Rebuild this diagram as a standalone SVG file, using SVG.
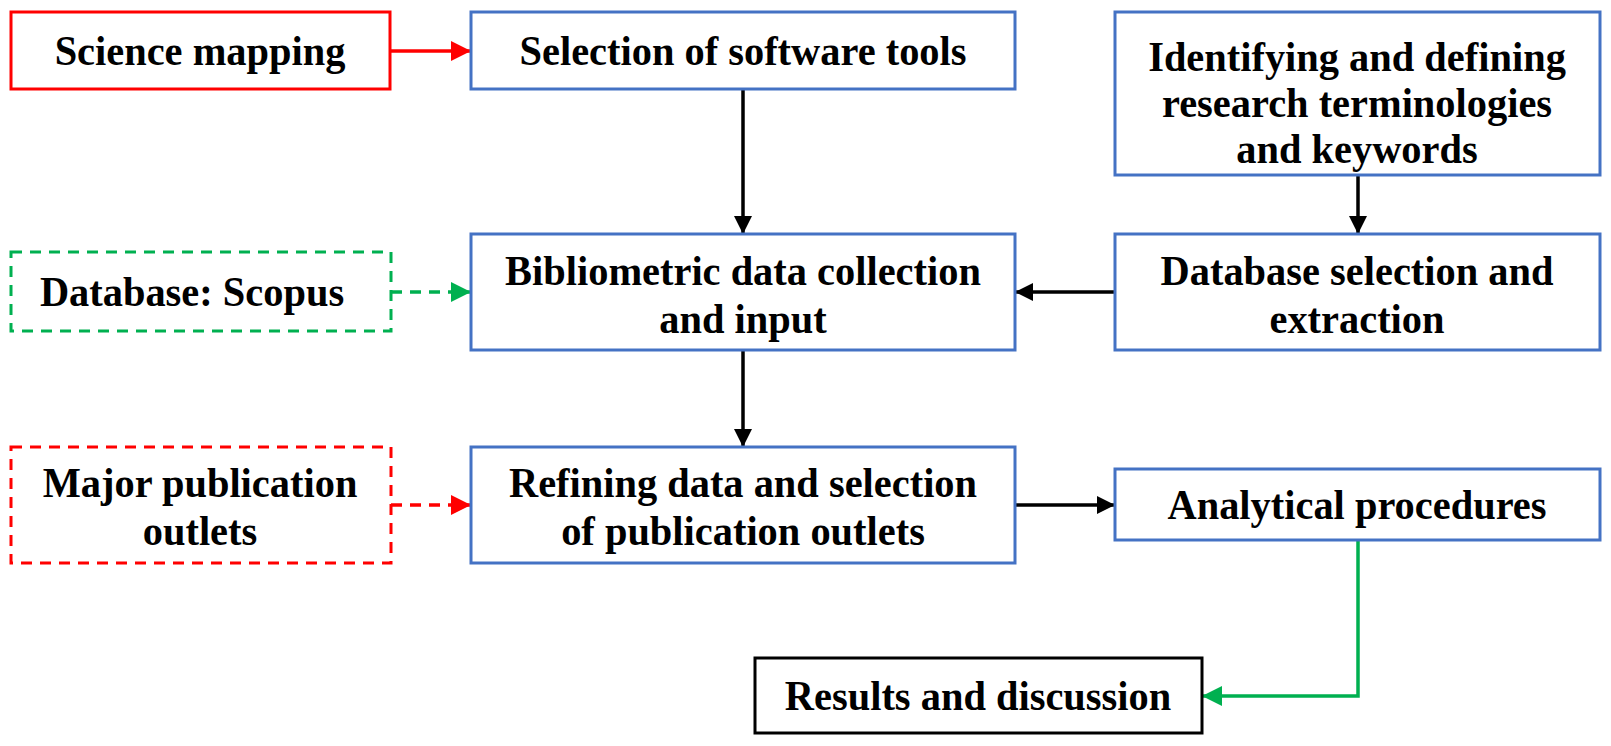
<svg xmlns="http://www.w3.org/2000/svg" width="1611" height="746" viewBox="0 0 1611 746">
<defs>
<style>
.box{fill:#fff;stroke-width:3}
.blue{stroke:#4472C4}
.red{stroke:#FF0000}
.green{stroke:#00B050}
.black{stroke:#000}
.dash{stroke-dasharray:11 8}
text{font-family:"Liberation Serif","Times New Roman",serif;font-weight:bold;font-size:43px;fill:#000;text-anchor:middle}
.c{fill:none;stroke-width:3.5}
</style>
<marker id="ak" viewBox="0 0 18 18" refX="18" refY="9" markerWidth="18" markerHeight="18" markerUnits="userSpaceOnUse" orient="auto"><path d="M0,0 L18,9 L0,18 z" fill="#000"/></marker>
<marker id="ar" viewBox="0 0 20 20" refX="20" refY="10" markerWidth="20" markerHeight="20" markerUnits="userSpaceOnUse" orient="auto"><path d="M0,0 L20,10 L0,20 z" fill="#FF0000"/></marker>
<marker id="ag" viewBox="0 0 20 20" refX="20" refY="10" markerWidth="20" markerHeight="20" markerUnits="userSpaceOnUse" orient="auto"><path d="M0,0 L20,10 L0,20 z" fill="#00B050"/></marker>
</defs>
<rect width="1611" height="746" fill="#fff"/>
<g id="connectors">
<path class="c red" d="M390,51 H471" marker-end="url(#ar)"/>
<path class="c black" d="M743,89 V234" marker-end="url(#ak)"/>
<path class="c black" d="M1358,175 V234" marker-end="url(#ak)"/>
<path class="c green dash" d="M391,292 H471" marker-end="url(#ag)"/>
<path class="c black" d="M1115,292 H1015" marker-end="url(#ak)"/>
<path class="c black" d="M743,350 V447" marker-end="url(#ak)"/>
<path class="c red dash" d="M391,505 H471" marker-end="url(#ar)"/>
<path class="c black" d="M1015,505 H1115" marker-end="url(#ak)"/>
<path class="c green" d="M1358,540 V696 H1202" marker-end="url(#ag)"/>
</g>
<g id="science-mapping">
<rect class="box red" x="11" y="12" width="379" height="77"/>
<text transform="translate(200,65) scale(0.94,1)">Science mapping</text>
</g>
<g id="selection-software">
<rect class="box blue" x="471" y="12" width="544" height="77"/>
<text transform="translate(743,65) scale(0.94,1)">Selection of software tools</text>
</g>
<g id="identifying">
<rect class="box blue" x="1115" y="12" width="485" height="163"/>
<text transform="translate(1357,71) scale(0.94,1)">Identifying and defining</text>
<text transform="translate(1357,117) scale(0.94,1)">research terminologies</text>
<text transform="translate(1357,163) scale(0.94,1)">and keywords</text>
</g>
<g id="database-scopus">
<rect class="box green dash" x="11" y="252" width="380" height="79"/>
<text transform="translate(192,306) scale(0.94,1)">Database: Scopus</text>
</g>
<g id="bibliometric">
<rect class="box blue" x="471" y="234" width="544" height="116"/>
<text transform="translate(743,285) scale(0.94,1)">Bibliometric data collection</text>
<text transform="translate(743,333) scale(0.94,1)">and input</text>
</g>
<g id="database-selection">
<rect class="box blue" x="1115" y="234" width="485" height="116"/>
<text transform="translate(1357,285) scale(0.94,1)">Database selection and</text>
<text transform="translate(1357,333) scale(0.94,1)">extraction</text>
</g>
<g id="major-publication">
<rect class="box red dash" x="11" y="447" width="380" height="116"/>
<text transform="translate(200,497) scale(0.94,1)">Major publication</text>
<text transform="translate(200,545) scale(0.94,1)">outlets</text>
</g>
<g id="refining">
<rect class="box blue" x="471" y="447" width="544" height="116"/>
<text transform="translate(743,497) scale(0.94,1)">Refining data and selection</text>
<text transform="translate(743,545) scale(0.94,1)">of publication outlets</text>
</g>
<g id="analytical">
<rect class="box blue" x="1115" y="469" width="485" height="71"/>
<text transform="translate(1357,519) scale(0.94,1)">Analytical procedures</text>
</g>
<g id="results">
<rect class="box black" x="755" y="658" width="447" height="75"/>
<text transform="translate(978,710) scale(0.94,1)">Results and discussion</text>
</g>
</svg>
